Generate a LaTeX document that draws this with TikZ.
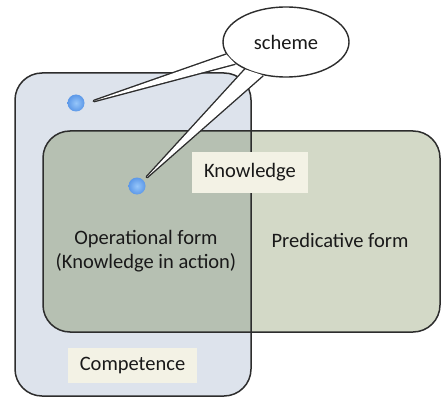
\documentclass[tikz,border=0pt]{standalone}
\usepackage{fontspec}
\setmainfont{Carlito}
\usetikzlibrary{shapes.geometric}
\definecolor{compfill}{RGB}{221,227,236}
\definecolor{knowfill}{RGB}{211,217,199}
\definecolor{bothfill}{RGB}{182,192,178}
\definecolor{tagfill}{RGB}{243,242,229}
\definecolor{dotlight}{RGB}{150,198,250}
\definecolor{dotblue}{RGB}{92,152,232}
\definecolor{edgegray}{RGB}{45,45,45}

\begin{document}
\begin{tikzpicture}[x=1pt,y=-1pt,
    every node/.style={font=\fontsize{20.5}{24}\selectfont, text=black!90},
    region/.style={rectangle, rounded corners=27pt, outer sep=0pt, inner sep=0pt},
    outline/.style={draw=edgegray, line width=1.5pt},
    tag/.style={fill=tagfill, inner sep=0pt},
    dot/.style={circle, minimum size=17pt, inner sep=0pt, inner color=dotlight, outer color=dotblue},
    tail/.style={fill=white, preaction={draw=edgegray, line width=2.8pt, line join=round}}]
    \useasboundingbox (0,0) rectangle (441,398);

    % the two sets and their overlap
    \node[region, fill=compfill, minimum width=236pt, minimum height=323pt] (competence) at (133,234.5) {};
    \node[region, fill=knowfill, minimum width=397pt, minimum height=201pt] (knowledge) at (241.5,231.5) {};
    \begin{scope}
        \clip[rounded corners=27pt] (competence.north west) rectangle (competence.south east);
        \fill[bothfill, rounded corners=27pt] (knowledge.north west) rectangle (knowledge.south east);
    \end{scope}
    \path[outline, rounded corners=27pt] (competence.north west) rectangle (competence.south east);
    \path[outline, rounded corners=27pt] (knowledge.north west) rectangle (knowledge.south east);

    % labels
    \node[tag, minimum width=116pt, minimum height=41pt] (knowtag) at (250,172.5) {Knowledge};
    \node[tag, minimum width=129pt, minimum height=35pt] (comptag) at (132.5,365.5) {Competence};
    \node[align=center] (operational) at (146,251.5) {Operational form\\(Knowledge in action)};
    \node (predicative) at (340,240) {Predicative form};

    % dots
    \node[dot] (dot1) at (76,103) {};
    \node[dot] (dot2) at (137,186) {};

    % callout
    \node[ellipse, draw=edgegray, line width=1.4pt, fill=white, minimum width=126pt, minimum height=70pt, inner sep=0pt] (scheme) at (286,42) {scheme};
    \coordinate (tip1) at (94,101);
    \coordinate (tip2) at (147,177);
    \path[tail] (scheme.192) -- (tip1) -- (scheme.203);
    \path[tail] (scheme.214) -- (tip2) -- (scheme.235);
\end{tikzpicture}
\end{document}
